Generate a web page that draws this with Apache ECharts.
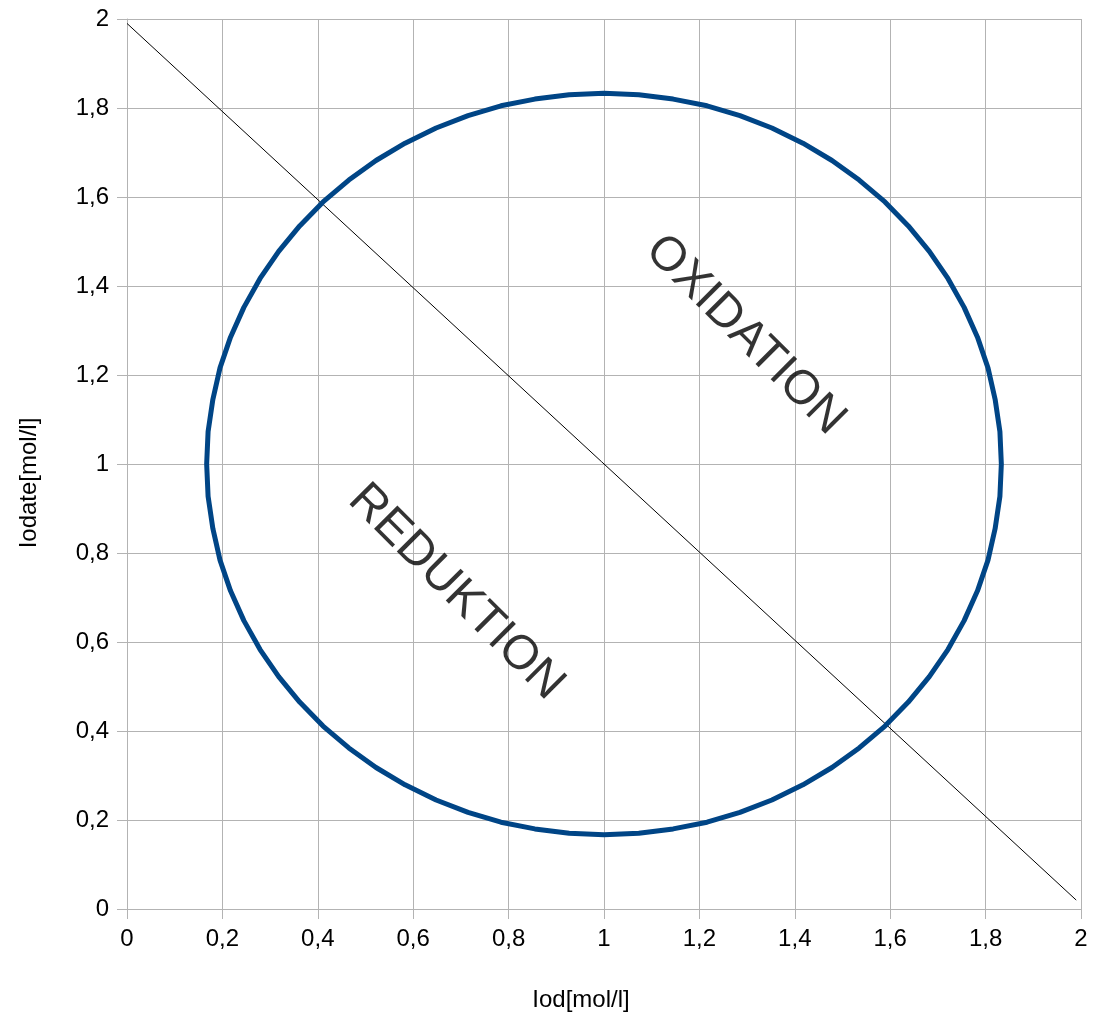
<!DOCTYPE html>
<html>
<head>
<meta charset="utf-8">
<script src="https://cdn.jsdelivr.net/npm/echarts@6/dist/echarts.min.js"></script>
<style>
html,body{margin:0;padding:0;background:#fff;}
#chart{width:1095px;height:1019px;}
</style>
</head>
<body>
<div id="chart"></div>
<script>
// Circle outline points (Iod, Iodate)
const circleX = [
  1.833,1.830,1.820,1.805,1.783,1.755,1.721,1.682,1.638,1.589,1.535,1.478,1.417,1.352,1.285,1.216,1.145,1.073,1.000,
  0.927,0.855,0.784,0.715,0.648,0.583,0.522,0.465,0.411,0.362,0.318,0.279,0.245,0.217,0.195,0.180,0.170,0.167,
  0.170,0.180,0.195,0.217,0.245,0.279,0.318,0.362,0.411,0.465,0.522,0.583,0.648,0.715,0.784,0.855,0.927,1.000,
  1.073,1.145,1.216,1.285,1.352,1.417,1.478,1.535,1.589,1.638,1.682,1.721,1.755,1.783,1.805,1.820,1.830,1.833
];
const circleY = [
  1.000,1.073,1.145,1.216,1.285,1.352,1.417,1.478,1.535,1.589,1.638,1.682,1.721,1.755,1.783,1.805,1.820,1.830,1.833,
  1.830,1.820,1.805,1.783,1.755,1.721,1.682,1.638,1.589,1.535,1.478,1.417,1.352,1.285,1.216,1.145,1.073,1.000,
  0.927,0.855,0.784,0.715,0.648,0.583,0.522,0.465,0.411,0.362,0.318,0.279,0.245,0.217,0.195,0.180,0.170,0.167,
  0.170,0.180,0.195,0.217,0.245,0.279,0.318,0.362,0.411,0.465,0.522,0.583,0.648,0.715,0.784,0.855,0.927,1.000
];
// Diagonal line end points
const diagX = [0.0, 1.99];
const diagY = [1.99, 0.02];
// Region labels
const regionNames = ['OXIDATION', 'REDUKTION'];
const regionX = [1.296, 0.690];
const regionY = [1.290, 0.712];
// Axis titles
const xTitle = 'Iod[mol/l]';
const yTitle = 'Iodate[mol/l]';

const zip = (a, b) => a.map((v, i) => [v, b[i]]);
const fmt = v => String(+v.toFixed(1)).replace('.', ',');
const gridColor = '#b3b3b3';
const font = '"Liberation Sans", Arial, sans-serif';

const chart = echarts.init(document.getElementById('chart'), null, {renderer: 'canvas'});
chart.setOption({
  animation: false,
  backgroundColor: '#ffffff',
  grid: {left: 127, right: 14, top: 19, bottom: 110, containLabel: false},
  xAxis: {
    type: 'value', min: 0, max: 2, interval: 0.2,
    name: xTitle, nameLocation: 'middle', nameGap: 79,
    nameTextStyle: {fontFamily: font, fontSize: 24, color: '#000', padding: [0, 46, 0, 0]},
    axisLine: {show: true, lineStyle: {color: gridColor, width: 1}},
    axisTick: {show: true, length: 10, lineStyle: {color: gridColor}},
    splitLine: {show: true, lineStyle: {color: gridColor, width: 1}},
    axisLabel: {fontFamily: font, fontSize: 24, color: '#000', margin: 18, formatter: fmt}
  },
  yAxis: {
    type: 'value', min: 0, max: 2, interval: 0.2,
    name: yTitle, nameLocation: 'middle', nameGap: 86, nameRotate: 90,
    nameTextStyle: {fontFamily: font, fontSize: 24, color: '#000', padding: [0, 38, 0, 0]},
    axisLine: {show: true, lineStyle: {color: gridColor, width: 1}},
    axisTick: {show: true, length: 10, lineStyle: {color: gridColor}},
    splitLine: {show: true, lineStyle: {color: gridColor, width: 1}},
    axisLabel: {fontFamily: font, fontSize: 24, color: '#000', margin: 18, formatter: fmt}
  },
  series: [
    {
      type: 'line', data: zip(diagX, diagY), showSymbol: false, clip: false,
      lineStyle: {color: '#000', width: 1}, z: 3
    },
    {
      type: 'line', data: zip(circleX, circleY), showSymbol: false, smooth: false, clip: false,
      lineStyle: {color: '#004586', width: 5, join: 'round'}, z: 4
    },
    {
      type: 'scatter', symbolSize: 0,
      data: regionNames.map((n, i) => ({name: n, value: [regionX[i], regionY[i]]})),
      label: {
        show: true, position: 'inside', rotate: -45,
        formatter: p => p.name,
        fontFamily: font, fontSize: 48, color: '#000', textBorderWidth: 0
      },
      z: 5
    }
  ]
});
</script>
</body>
</html>
